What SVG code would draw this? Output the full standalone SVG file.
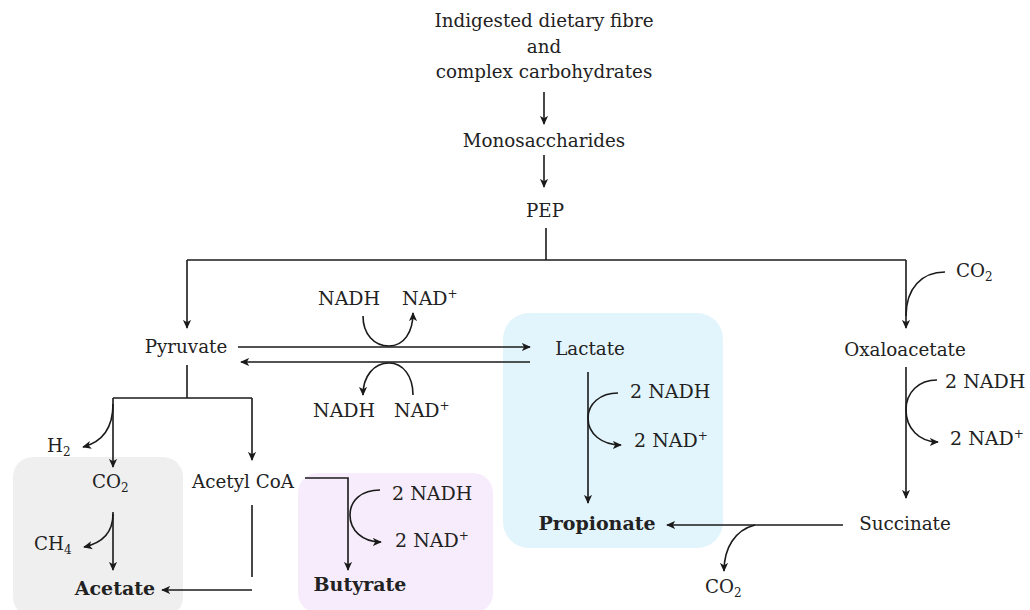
<svg xmlns="http://www.w3.org/2000/svg" width="1030" height="610" viewBox="0 0 1030 610">
<defs>
<marker id="ah" viewBox="0 0 10 10" refX="9" refY="5" markerWidth="9" markerHeight="9" markerUnits="userSpaceOnUse" orient="auto">
<path d="M0,0.5 L10,5 L0,9.5 L2.5,5 z" fill="#1a1a1a"/>
</marker>
<style>
text{font-family:"DejaVu Serif","Liberation Serif",serif;font-size:18.3px;fill:#222}
.m{text-anchor:middle}
.b{font-weight:bold;font-size:19px}
.c{font-size:19px}
.s{font-size:12px}
.ln{fill:none;stroke:#1a1a1a;stroke-width:1.6}
.ar{fill:none;stroke:#1a1a1a;stroke-width:1.6;marker-end:url(#ah)}
</style>
</defs>
<rect width="1030" height="610" fill="#fff"/>
<g id="boxes">
<rect x="13" y="457" width="170" height="160" rx="20" fill="#efefef"/>
<rect x="298" y="473" width="195" height="140" rx="20" fill="#f6ecfb"/>
<rect x="503" y="313" width="220" height="235" rx="26" fill="#e3f5fc"/>
</g>
<g id="connectors">
<line class="ar" x1="544" y1="92" x2="544" y2="124"/>
<line class="ar" x1="544" y1="155" x2="544" y2="187"/>
<polyline class="ln" points="546,228 546,260"/>
<polyline class="ln" points="187,260 906,260"/>
<line class="ar" x1="187" y1="260" x2="187" y2="328"/>
<line class="ar" x1="906" y1="260" x2="906" y2="328"/>
<path class="ln" d="M945,272 C922,272 906,288 906,316"/>
<line class="ar" x1="238" y1="347" x2="530" y2="347"/>
<line class="ar" x1="530" y1="362" x2="241" y2="362"/>
<path class="ar" d="M363,316 C363,334 374,346 389,346 C404,346 413,332 413,313"/>
<path class="ar" d="M413,395 C413,376 403,363 389,363 C374,363 363,376 363,395"/>
<polyline class="ln" points="187,365 187,398"/>
<polyline class="ln" points="113,398 252,398"/>
<line class="ar" x1="113" y1="398" x2="113" y2="467"/>
<line class="ar" x1="252" y1="398" x2="252" y2="460"/>
<path class="ar" d="M113,404 C113,428 102,442 83,447"/>
<line class="ar" x1="113" y1="512" x2="113" y2="570"/>
<path class="ar" d="M113,514 C113,533 102,543 84,547"/>
<polyline class="ln" points="252,505 252,577"/>
<line class="ar" x1="252" y1="590" x2="162" y2="590"/>
<polyline class="ar" points="305,478 348,478 348,570"/>
<path class="ar" d="M380,490 C362,490 350,500 350,515 C350,530 362,542 381,542"/>
<line class="ar" x1="588" y1="372" x2="588" y2="503"/>
<path class="ar" d="M618,393 C600,393 588,404 588,418 C588,434 602,445 621,445"/>
<line class="ar" x1="906" y1="367" x2="906" y2="498"/>
<path class="ar" d="M937,380 C919,380 906,392 906,410 C906,428 919,442 938,442"/>
<line class="ar" x1="843" y1="525" x2="667" y2="525"/>
<path class="ar" d="M755,525 C735,530 724,548 724,571"/>
</g>
<g id="n-fibre"><text class="m" x="544" y="27">Indigested dietary fibre</text><text class="m" x="544" y="53">and</text><text class="m" x="544" y="78">complex carbohydrates</text></g>
<g id="n-mono"><text class="m" x="544" y="147">Monosaccharides</text></g>
<g id="n-pep"><text class="m" x="545" y="217">PEP</text></g>
<g id="n-pyruvate"><text class="m" x="186" y="353">Pyruvate</text></g>
<g id="n-lactate"><text class="m" x="590" y="355">Lactate</text></g>
<g id="n-oxaloacetate"><text class="m" x="905" y="356">Oxaloacetate</text></g>
<g id="n-succinate"><text class="m" x="905" y="530">Succinate</text></g>
<g id="n-propionate"><text class="m b" x="597" y="530">Propionate</text></g>
<g id="n-acetate"><text class="m b" x="115" y="595">Acetate</text></g>
<g id="n-butyrate"><text class="m b" x="360" y="591">Butyrate</text></g>
<g id="n-acetylcoa"><text class="m" x="243" y="488">Acetyl CoA</text></g>
<g id="n-co2-left"><text x="92" y="488">CO<tspan class="s" dy="4">2</tspan></text></g>
<g id="n-h2"><text x="47" y="452">H<tspan class="s" dy="4">2</tspan></text></g>
<g id="n-ch4"><text x="34" y="550">CH<tspan class="s" dy="4">4</tspan></text></g>
<g id="n-co2-top"><text x="956" y="277">CO<tspan class="s" dy="4">2</tspan></text></g>
<g id="n-co2-bottom"><text x="705" y="593">CO<tspan class="s" dy="4">2</tspan></text></g>
<g id="cofactors">
<text class="c" x="318" y="305">NADH</text>
<text class="c" x="402" y="305">NAD<tspan class="s" dy="-7">+</tspan></text>
<text class="c" x="313" y="417">NADH</text>
<text class="c" x="394" y="417">NAD<tspan class="s" dy="-7">+</tspan></text>
<text class="c" x="392" y="500">2 NADH</text>
<text class="c" x="395" y="547">2 NAD<tspan class="s" dy="-7">+</tspan></text>
<text class="c" x="630" y="398">2 NADH</text>
<text class="c" x="634" y="447">2 NAD<tspan class="s" dy="-7">+</tspan></text>
<text class="c" x="945" y="388">2 NADH</text>
<text class="c" x="950" y="445">2 NAD<tspan class="s" dy="-7">+</tspan></text>
</g>
</svg>
